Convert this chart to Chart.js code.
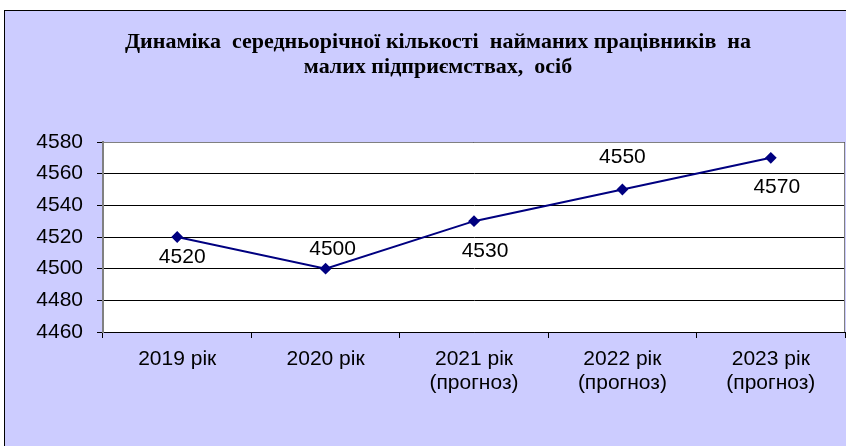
<!DOCTYPE html>
<html>
<head>
<meta charset="utf-8">
<script src="https://cdn.jsdelivr.net/npm/chart.js@4.4.1/dist/chart.umd.min.js"></script>
<style>
  html, body { margin: 0; padding: 0; width: 846px; height: 446px; overflow: hidden; background: #fff; }
  #box { position: absolute; left: 4px; top: 10px; width: 870px; height: 450px;
         background: #ccccff; border: 1px solid #000; box-sizing: border-box; }
  #wrap { position: absolute; left: 0; top: 0; width: 868px; height: 448px; }
</style>
</head>
<body>
<div id="box"><div id="wrap"><canvas id="myChart"></canvas></div></div>
<script>
const years = [['2019 рік'], ['2020 рік'], ['2021 рік', '(прогноз)'], ['2022 рік', '(прогноз)'], ['2023 рік', '(прогноз)']];
const workers = [4520, 4500, 4530, 4550, 4570];
const yTicks = [4460, 4480, 4500, 4520, 4540, 4560, 4580];
const titleLines = ['Динаміка  середньорічної кількості  найманих працівників  на', 'малих підприємствах,  осіб'];

// where each value label sits relative to its point (dx, dy in px)
const labelShift = [[5, 20], [7, -19], [11, 30], [0, -32], [6, 29]];

const plotBox = {
  id: 'plotBox',
  beforeDraw(chart) {
    const a = chart.chartArea, c = chart.ctx;
    c.save();
    c.fillStyle = '#fff';
    c.fillRect(a.left, a.top, a.right - a.left, a.bottom - a.top);
    c.restore();
  },
  afterDatasetsDraw(chart) {
    const a = chart.chartArea, c = chart.ctx;
    c.save();
    c.strokeStyle = '#808080';
    c.lineWidth = 1;
    c.beginPath();
    c.moveTo(a.left, a.top + 0.5);
    c.lineTo(a.right - 0.5, a.top + 0.5);
    c.lineTo(a.right - 0.5, a.bottom);
    c.stroke();
    // value labels
    const meta = chart.getDatasetMeta(0);
    c.fillStyle = '#000';
    c.font = '21px "Liberation Sans", Arial, sans-serif';
    c.textAlign = 'center';
    c.textBaseline = 'middle';
    meta.data.forEach((p, i) => {
      c.fillText(String(workers[i]), p.x + labelShift[i][0], p.y + labelShift[i][1]);
    });
    // title, centred a bit right of the canvas middle like the original
    c.font = 'bold 22px "Liberation Serif", "Times New Roman", serif';
    titleLines.forEach((t, i) => c.fillText(t, 433, 31 + i * 25));
    c.restore();
  }
};

new Chart(document.getElementById('myChart'), {
  type: 'line',
  data: {
    labels: years,
    datasets: [{
      data: workers,
      borderColor: '#000080',
      backgroundColor: '#000080',
      borderWidth: 2,
      pointStyle: 'rectRot',
      pointRadius: 4.5,
      pointHoverRadius: 4.5,
      tension: 0
    }]
  },
  options: {
    responsive: true,
    maintainAspectRatio: false,
    animation: false,
    events: [],
    layout: { padding: { left: 0, right: 28, top: 131, bottom: 0 } },
    plugins: {
      legend: { display: false },
      tooltip: { enabled: false }
    },
    scales: {
      x: {
        offset: true,
        grid: { display: true, drawOnChartArea: false, offset: true, color: '#000', tickLength: 6 },
        border: { display: true, color: '#000', width: 1 },
        ticks: {
          color: '#000',
          padding: 9,
          maxRotation: 0,
          font: { family: '"Liberation Sans", Arial, sans-serif', size: 21, lineHeight: 1.15 }
        },
        afterFit(scale) { scale.height = 127; }
      },
      y: {
        min: yTicks[0],
        max: yTicks[yTicks.length - 1],
        afterBuildTicks(scale) { scale.ticks = yTicks.map(v => ({ value: v })); },
        grid: { color: '#000', tickLength: 6, lineWidth: 1 },
        border: { display: true, color: '#808080', width: 2 },
        ticks: {
          color: '#000',
          padding: 14,
          callback: v => String(v),
          font: { family: '"Liberation Sans", Arial, sans-serif', size: 21 }
        },
        afterFit(scale) { scale.width = 98; }
      }
    }
  },
  plugins: [plotBox]
});
</script>
</body>
</html>
